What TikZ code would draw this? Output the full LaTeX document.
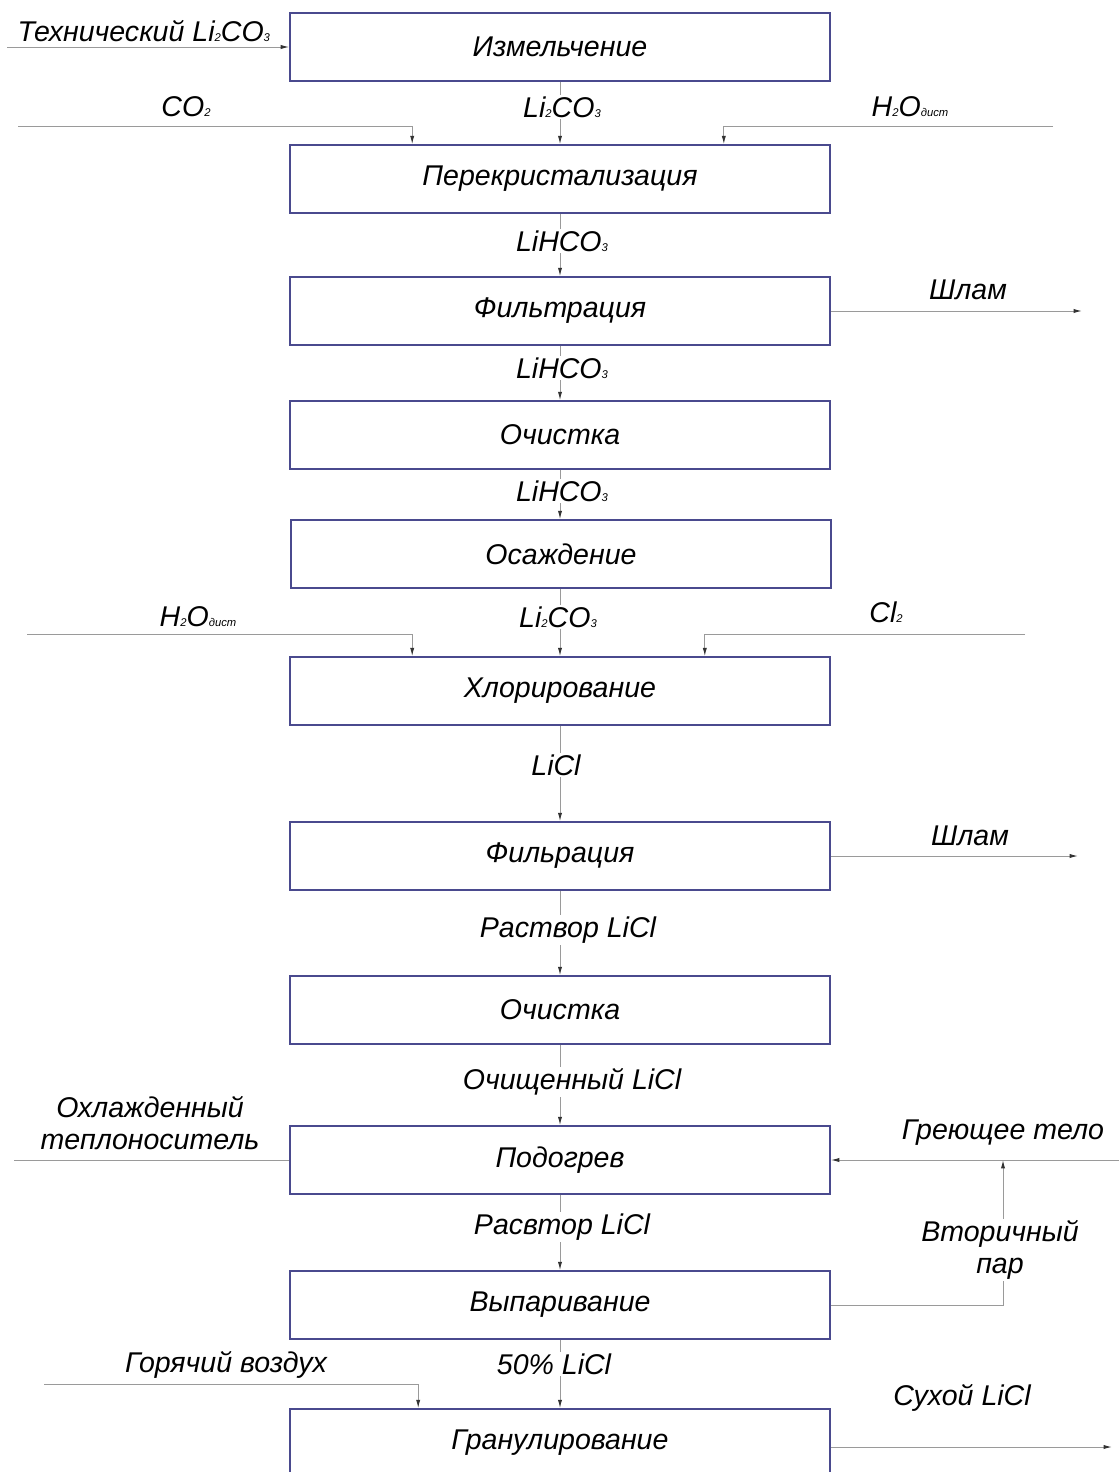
\documentclass[tikz,border=0pt]{standalone}
\usepackage{fontspec}
\setmainfont{Liberation Sans}
\usepackage{tikz}
\usetikzlibrary{positioning,arrows.meta}
\definecolor{boxblue}{HTML}{4A4A8E}
\definecolor{flowgray}{HTML}{9A9A9A}
\newcommand{\lo}[1]{{\fontsize{8}{8}\selectfont #1}}

\begin{document}
\begin{tikzpicture}[
  x=0.025cm, y=-0.025cm,
  stage/.style={draw=boxblue, line width=1.1pt, minimum width=13.5cm,
                minimum height=1.7cm, font=\fontsize{20.3}{23}\selectfont\itshape},
  lbl/.style={font=\fontsize{20.3}{23}\selectfont\itshape, inner sep=1pt},
  midlbl/.style={lbl, fill=white},
  line/.style={draw=flowgray, line width=0.7pt},
  flow/.style={line, -{Latex[length=6pt, width=3pt, color=black!80]}}
]
\useasboundingbox (0,0) rectangle (1119,1472);

% Stages
\node[stage] (izm)    at (560, 47)   {Измельчение};
\node[stage] (perekr) at (560, 179)  {Перекристализация};
\node[stage] (filt1)  at (560, 311)  {Фильтрация};
\node[stage] (och1)   at (560, 435)  {Очистка};
\node[stage] (osazh)  at (561, 554)  {Осаждение};
\node[stage] (hlor)   at (560, 691)  {Хлорирование};
\node[stage] (filt2)  at (560, 856)  {Фильрация};
\node[stage] (och2)   at (560, 1010) {Очистка};
\node[stage] (podogr) at (560, 1160) {Подогрев};
\node[stage] (vypar)  at (560, 1305) {Выпаривание};
\node[stage] (granul) at (560, 1443) {Гранулирование};

% Free ends
\coordinate (techin)  at (7, 47);
\coordinate (co2in)   at (18, 126);
\coordinate (h2oin1)  at (1053, 126);
\coordinate (slam1)   at (1082, 311);
\coordinate (h2oin2)  at (27, 634);
\coordinate (cl2in)   at (1025, 634);
\coordinate (slam2)   at (1078, 856);
\coordinate (coolout) at (14, 1160);
\coordinate (heatin)  at (1119, 1160);
\coordinate (steamj)  at (1003, 1160);
\coordinate (airin)   at (44, 1384);
\coordinate (dryout)  at (1112, 1447);

% Main line
\draw[flow] (izm) -- (perekr);
\draw[flow] (perekr) -- (filt1);
\draw[flow] (filt1) -- (och1);
\draw[flow] (och1) -- (osazh.north -| och1.south);
\draw[flow] (osazh.south -| hlor.north) -- (hlor);
\draw[flow] (hlor) -- (filt2);
\draw[flow] (filt2) -- (och2);
\draw[flow] (och2) -- (podogr);
\draw[flow] (podogr) -- (vypar);
\draw[flow] (vypar) -- (granul);

% Side streams
\draw[flow] (techin) -- (izm.west);
\draw[flow] (co2in) -| ([xshift=3.075cm]perekr.north west);
\draw[flow] (h2oin1) -| ([xshift=-2.675cm]perekr.north east);
\draw[flow] (filt1.east) -- (slam1);
\draw[flow] (h2oin2) -| ([xshift=3.075cm]hlor.north west);
\draw[flow] (cl2in) -| ([xshift=-3.15cm]hlor.north east);
\draw[flow] (filt2.east) -- (slam2);
\draw[line] (podogr.west) -- (coolout);
\draw[flow] (heatin) -- (podogr.east);
\draw[flow] (vypar.east) -| (steamj);
\draw[flow] (airin) -| ([xshift=3.225cm]granul.north west);
\draw[flow] (granul.east |- dryout) -- (dryout);

% Stream labels
\node[lbl, anchor=west] (techl) at (16, 31) {Технический Li\lo{2}CO\lo{3}};
\node[lbl] (co2l)   at (186, 107) {CO\lo{2}};
\node[midlbl] (m1)  at (562, 107) {Li\lo{2}CO\lo{3}};
\node[lbl] (h2ol1)  at (910, 107) {H\lo{2}O\lo{дист}};
\node[midlbl] (m2)  at (562, 241) {LiHCO\lo{3}};
\node[lbl] (slaml1) at (968, 290) {Шлам};
\node[midlbl] (m3)  at (562, 368) {LiHCO\lo{3}};
\node[midlbl] (m4)  at (562, 491) {LiHCO\lo{3}};
\node[lbl] (h2ol2)  at (198, 617) {H\lo{2}O\lo{дист}};
\node[midlbl] (m5)  at (558, 617) {Li\lo{2}CO\lo{3}};
\node[lbl] (cl2l)   at (886, 612) {Cl\lo{2}};
\node[midlbl] (m6)  at (556, 765) {LiCl};
\node[lbl] (slaml2) at (970, 836) {Шлам};
\node[midlbl] (m7)  at (568, 930) {Раствор LiCl};
\node[midlbl] (m8)  at (572, 1082) {Очищенный LiCl};
\node[lbl, align=center] (cooll) at (150, 1123) {Охлажденный\\теплоноситель};
\node[lbl] (heatl)  at (1003, 1133) {Греющее тело};
\node[midlbl] (m9)  at (562, 1227) {Расвтор LiCl};
\node[midlbl, align=center] (steaml) at (1000, 1250) {Вторичный\\пар};
\node[lbl] (airl)   at (226, 1365) {Горячий воздух};
\node[midlbl] (m10) at (554, 1364) {50\% LiCl};
\node[lbl] (dryl)   at (962, 1398) {Сухой LiCl};

\end{tikzpicture}
\end{document}
